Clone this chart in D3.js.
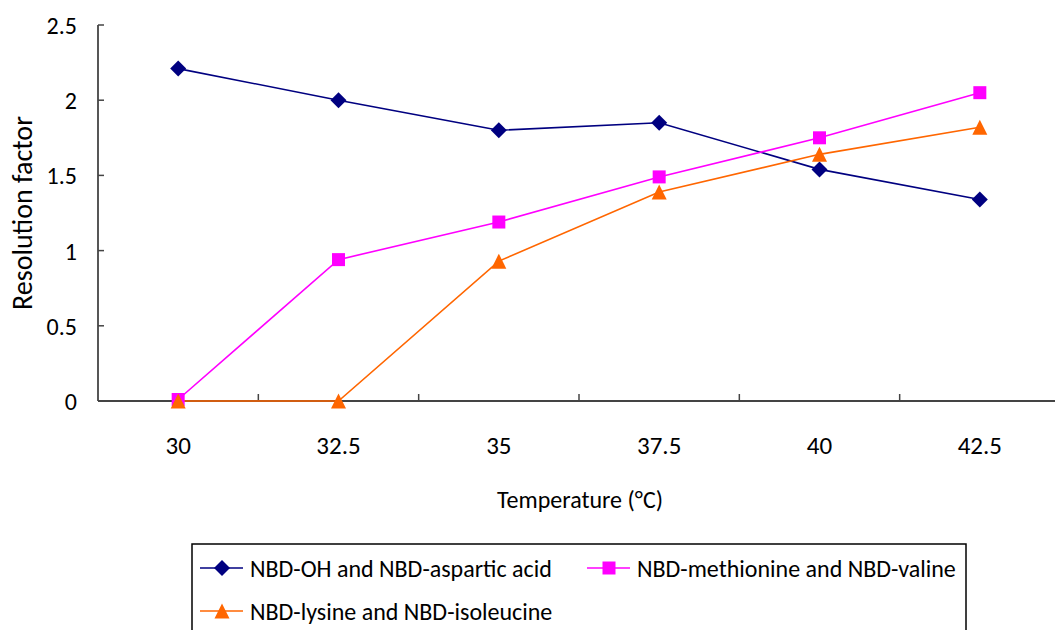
<!DOCTYPE html>
<html>
<head>
<meta charset="utf-8">
<script src="https://cdn.jsdelivr.net/npm/d3@7"></script>
<style>
  html, body { margin: 0; padding: 0; background: #fff; }
  svg { display: block; }
  text { font-family: Carlito, Lato, "Open Sans", sans-serif; fill: #000; }
</style>
</head>
<body>
<svg id="chart" width="1055" height="630"></svg>
<script>
// Temperature categories (°C)
const temperatures = ["30", "32.5", "35", "37.5", "40", "42.5"];

// Resolution factor for each pair
const aspartic = [2.21, 2.0, 1.80, 1.85, 1.54, 1.34];
const methionine = [0.01, 0.94, 1.19, 1.49, 1.75, 2.05];
const lysine = [0, 0, 0.93, 1.39, 1.64, 1.82];

const yTicks = [0, 0.5, 1, 1.5, 2, 2.5];

const series = [
  { name: "NBD-OH and NBD-aspartic acid", values: aspartic, color: "#000080", marker: "diamond" },
  { name: "NBD-methionine and NBD-valine", values: methionine, color: "#FF00FF", marker: "square" },
  { name: "NBD-lysine and NBD-isoleucine", values: lysine, color: "#FF6600", marker: "triangle" }
];

const svg = d3.select("#chart");

const plot = { left: 98, right: 1060, top: 25, bottom: 401 };

const x = d3.scaleBand().domain(temperatures).range([plot.left, plot.right]);
const y = d3.scaleLinear().domain([0, 2.5]).range([plot.bottom, plot.top]);
const cx = d => x(d) + x.bandwidth() / 2;

// marker shapes drawn around the origin
function markerPath(type) {
  if (type === "diamond") {
    const r = 8;
    return `M0,${-r}L${r},0L0,${r}L${-r},0Z`;
  }
  if (type === "square") {
    const h = 6.5;
    return `M${-h},${-h}H${h}V${h}H${-h}Z`;
  }
  const w = 7.5, h = 7.5;
  return `M0,${-h}L${w},${h}L${-w},${h}Z`;
}

// Y axis
const yAxis = svg.append("g").attr("transform", `translate(${plot.left},0)`);
yAxis.append("line")
  .attr("x1", 0).attr("x2", 0).attr("y1", plot.top).attr("y2", plot.bottom)
  .attr("stroke", "#444").attr("stroke-width", 1.8);
yAxis.selectAll(".tick").data(yTicks).enter().append("line")
  .attr("x1", 0).attr("x2", 6).attr("y1", d => y(d)).attr("y2", d => y(d))
  .attr("stroke", "#444").attr("stroke-width", 1.5);
yAxis.selectAll(".lbl").data(yTicks).enter().append("text")
  .attr("x", -21).attr("y", d => y(d) + 9)
  .attr("text-anchor", "end").attr("font-size", 24)
  .text(d => d);

// X axis
const xAxis = svg.append("g");
xAxis.append("line")
  .attr("x1", plot.left).attr("x2", plot.right).attr("y1", plot.bottom).attr("y2", plot.bottom)
  .attr("stroke", "#444").attr("stroke-width", 1.8);
const boundaries = temperatures.map(t => x(t)).concat([plot.right]);
xAxis.selectAll(".tick").data(boundaries.slice(1)).enter().append("line")
  .attr("x1", d => d).attr("x2", d => d).attr("y1", plot.bottom).attr("y2", plot.bottom - 7)
  .attr("stroke", "#444").attr("stroke-width", 1.5);
xAxis.selectAll(".lbl").data(temperatures).enter().append("text")
  .attr("x", d => cx(d)).attr("y", 454)
  .attr("text-anchor", "middle").attr("font-size", 25)
  .text(d => d);

// Axis titles
svg.append("text")
  .attr("x", 580).attr("y", 508)
  .attr("text-anchor", "middle").attr("font-size", 24)
  .text("Temperature (°C)");
svg.append("text")
  .attr("transform", "translate(32,213) rotate(-90)")
  .attr("text-anchor", "middle").attr("font-size", 28)
  .text("Resolution factor");

// Series lines and markers
const line = d3.line().x((d, i) => cx(temperatures[i])).y(d => y(d));
series.forEach(s => {
  svg.append("path")
    .attr("d", line(s.values))
    .attr("fill", "none").attr("stroke", s.color).attr("stroke-width", 1.6);
});
series.forEach(s => {
  svg.selectAll(null).data(s.values).enter().append("path")
    .attr("d", markerPath(s.marker))
    .attr("transform", (d, i) => `translate(${cx(temperatures[i])},${y(d)})`)
    .attr("fill", s.color);
});

// Legend
const legend = svg.append("g");
legend.append("rect")
  .attr("x", 192).attr("y", 544).attr("width", 774).attr("height", 110)
  .attr("fill", "#fff").attr("stroke", "#000").attr("stroke-width", 1.5);
const legendPos = [
  { x: 200, y: 568 },
  { x: 587, y: 568 },
  { x: 200, y: 611 }
];
series.forEach((s, i) => {
  const p = legendPos[i];
  const g = legend.append("g").attr("transform", `translate(${p.x},${p.y})`);
  g.append("line").attr("x1", 0).attr("x2", 43).attr("y1", 0).attr("y2", 0)
    .attr("stroke", s.color).attr("stroke-width", 1.6);
  g.append("path").attr("d", markerPath(s.marker))
    .attr("transform", "translate(22,0)").attr("fill", s.color);
  g.append("text").attr("x", 50).attr("y", 9).attr("font-size", 24).text(s.name);
});
</script>
</body>
</html>
